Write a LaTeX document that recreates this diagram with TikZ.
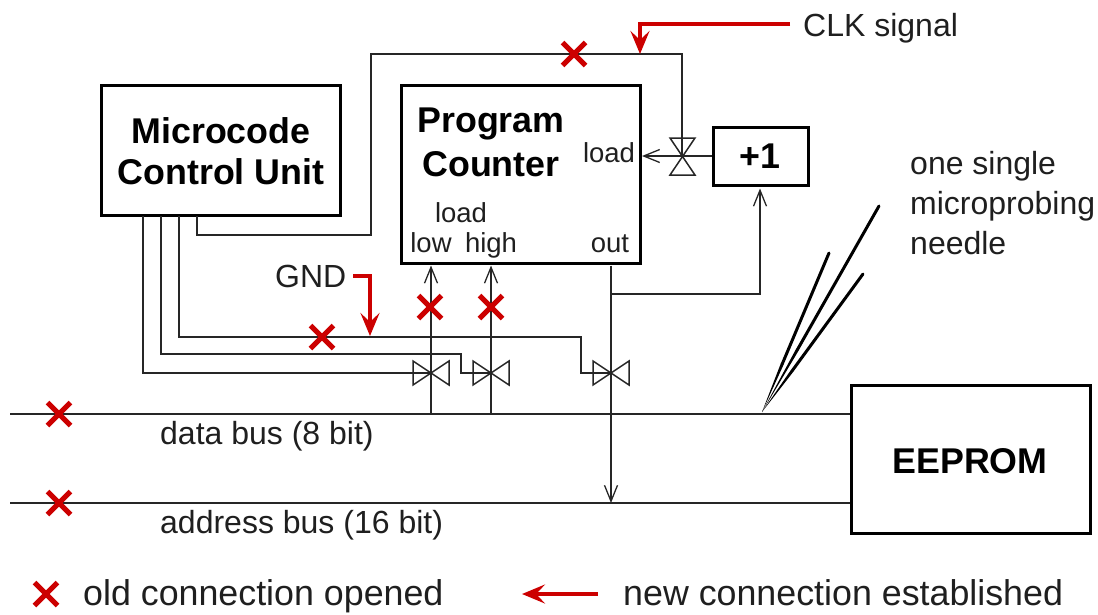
\documentclass[tikz,border=0pt]{standalone}
\usepackage{fontspec}
\setmainfont{Liberation Sans}
\usetikzlibrary{arrows.meta,shapes.misc,calc}
\tikzset{
  blockbox/.style={draw=black,fill=white,line width=3pt,inner sep=0pt,anchor=north west},
  wire/.style={draw=black!85,line width=1.5pt,line join=miter},
  sigarrow/.style={wire,-{Straight Barb[length=16pt,width=13pt,line width=1.3pt]}},
  redarrow/.style={draw=red!80!black,line width=4.5pt,-{Stealth[length=23pt,width=19pt,inset=9pt]}},
  xmark/.style={cross out,draw=red!80!black,line width=5pt,minimum size=18pt,inner sep=0pt},
  txt/.style={font=\fontsize{32}{36}\selectfont,inner sep=0pt,anchor=base west,text=black!88},
  legend/.style={font=\fontsize{35.8}{40}\selectfont,inner sep=0pt,anchor=base west,text=black!88},
  small/.style={font=\fontsize{27.5}{32}\selectfont,inner sep=0pt,anchor=base,text=black!88},
  title/.style={font=\fontsize{35.8}{40}\selectfont\bfseries,inner sep=0pt,anchor=base},
  needle/.style={draw=black,line width=3pt,line cap=round},
  valve/.style={draw=black!85,line width=1.5pt,line join=miter}
}
\begin{document}
\begin{tikzpicture}[x=1pt,y=-1pt]
\useasboundingbox (0,0) rectangle (1098,614);
% blocks
\node[blockbox,minimum width=239.5pt,minimum height=130.5pt] (mcu) at (99.5,83.5) {};
\node[blockbox,minimum width=239pt,minimum height=178.5pt] (pc) at (399.5,83.5) {};
\node[blockbox,minimum width=95pt,minimum height=58.5pt] (inc) at (711.5,125.5) {};
\node[blockbox,minimum width=239pt,minimum height=148.5pt] (eeprom) at (849.5,383.5) {};
% coordinates
\coordinate (v0) at (682,156);
\coordinate (v1) at (431,373);
\coordinate (v2) at (491,373);
\coordinate (v3) at (611,373);
\coordinate (dbl) at (10,414);
\coordinate (abl) at (10,503);
\coordinate (dbr) at (eeprom.west |- dbl);
\coordinate (abr) at (eeprom.west |- abl);
\coordinate (tip) at (762,412);
\coordinate (na) at (829,253);
\coordinate (nb) at (879,206);
\coordinate (nc) at (863,274);
% wires
\draw[wire] (197,216) |- (371,235) |- (682,54) -- (v0);
\draw[wire] (dbl) -- (dbr);
\draw[wire] (abl) -- (abr);
\draw[wire] (143,216) |- (v1);
\draw[wire] (161,216) |- (461,354) |- (v2);
\draw[wire] (179,216) |- (581,337) |- (v3);
\draw[sigarrow] (431,414) -- (431,265.5);
\draw[sigarrow] (491,414) -- (491,265.5);
\draw[sigarrow] (611,265.5) -- (611,503);
\draw[sigarrow] (611,294) -| (760,188.5);
\draw[sigarrow] (inc.west |- v0) -- (642,156);
% valves
\draw[valve] (670,138) -- (695,138) -- (670,175) -- (695,175) -- cycle;
\foreach \c in {v1,v2,v3}{
  \draw[valve] ([shift={(-18,-12)}]\c) -- ([shift={(18,12)}]\c) -- ([shift={(18,-12)}]\c) -- ([shift={(-18,12)}]\c) -- cycle;
}
% needles: a sharp taper from the tip, then a constant stroke
\foreach \n in {na,nb,nc}{
  \coordinate (m) at ($(tip)!.3!(\n)$);
  \fill[black] (tip) -- ($(m)!1.5pt!90:(\n)$) -- ($(m)!1.5pt!-90:(\n)$) -- cycle;
  \draw[needle] (m) -- (\n);
}
% red
\draw[redarrow] (790,24) -| (640,54);
\draw[redarrow] (353,276) -| (370,336);
\draw[redarrow] (598,594) -- (522,594);
\node[xmark] (x1) at (574,54) {};
\node[xmark] (x2) at (322,337) {};
\node[xmark] (x3) at (430,307) {};
\node[xmark] (x4) at (491,307) {};
\node[xmark] (x5) at (59,414) {};
\node[xmark] (x6) at (59,503) {};
\node[xmark] (x7) at (46,594) {};
% text
\node[title] (t1) at (221,143.5) {Microcode};
\node[title] (t2) at (221,184) {Control Unit};
\node[title] (t3) at (491,132) {Program};
\node[title] (t4) at (491,176) {Counter};
\node[title] (t5) at (760,168) {+1};
\node[title] (t6) at (970,473) {EEPROM};
\node[small] (l1) at (609,162) {load};
\node[small] (l2) at (461,222) {load};
\node[small] (l3) at (431,252) {low};
\node[small] (l4) at (491,252) {high};
\node[small] (l5) at (610,252) {out};
\node[txt] (c1) at (803,36) {CLK signal};
\node[txt] (c2) at (910,174) {one single};
\node[txt] (c3) at (910,214) {microprobing};
\node[txt] (c4) at (910,254) {needle};
\node[txt] (c5) at (275,287) {GND};
\node[txt] (c6) at (160,444) {data bus (8 bit)};
\node[txt] (c7) at (160,533) {address bus (16 bit)};
\node[legend] (c8) at (83,605) {old connection opened};
\node[legend] (c9) at (623,605) {new connection established};
\end{tikzpicture}
\end{document}
